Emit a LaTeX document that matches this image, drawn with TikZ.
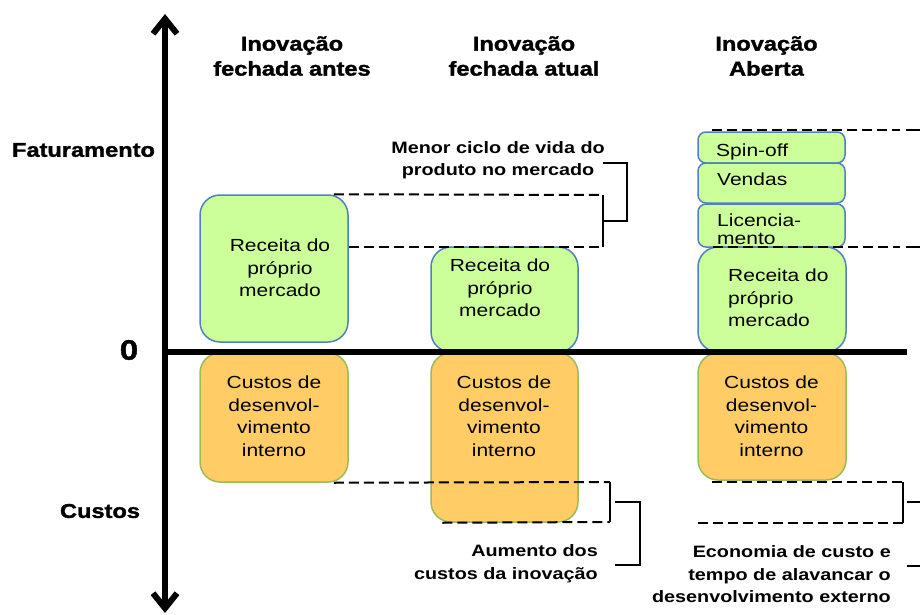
\documentclass[tikz,border=0pt]{standalone}
\usepackage{fontspec}
\setmainfont{Liberation Sans}[FakeStretch=1.2]
\newfontfamily\heavyfont{Liberation Sans Bold}[FakeStretch=1.18,FakeBold=1.5]
\usetikzlibrary{arrows.meta,calc}
\definecolor{gfill}{HTML}{CCFF99}
\definecolor{gdraw}{HTML}{4F81BD}
\definecolor{ofill}{HTML}{FFCC66}
\definecolor{odraw}{HTML}{9BBB59}
\begin{document}
\begin{tikzpicture}[x=1pt,y=-1pt,
  gbox/.style={draw=gdraw, fill=gfill, line width=1.5pt, rounded corners=20pt, inner sep=0pt},
  obox/.style={draw=odraw, fill=ofill, line width=1.5pt, rounded corners=20pt, inner sep=0pt},
  sbox/.style={gbox, rounded corners=8pt},
  boxtxt/.style={font=\fontsize{17.5}{22.5}\selectfont, align=center, inner sep=0pt},
  title/.style={font=\heavyfont\fontsize{20}{25}\selectfont, align=center, inner sep=0pt},
  note/.style={font=\bfseries\fontsize{16.5}{22.5}\selectfont, inner sep=0pt},
  dline/.style={line width=2pt, dash pattern=on 10pt off 5pt},
  bline/.style={line width=2pt},
  axis/.style={line width=6pt},
]
\useasboundingbox (0,0) rectangle (920,615);
\clip (0,0) rectangle (920,615);

% boxes
\node[gbox, minimum width=148pt, minimum height=147pt] (g1) at (274,268.5) {};
\node[obox, minimum width=148pt, minimum height=129pt] (o1) at (274,417.5) {};
\node[gbox, minimum width=147pt, minimum height=105pt] (g2) at (504.5,299.5) {};
\node[obox, minimum width=147pt, minimum height=169pt] (o2) at (504.5,437.5) {};
\node[sbox, minimum width=147pt, minimum height=31pt] (s3) at (771.5,147.5) {};
\node[sbox, minimum width=147pt, minimum height=40pt] (v3) at (771.5,183) {};
\node[sbox, minimum width=147pt, minimum height=43pt] (l3) at (771.5,225.5) {};
\node[gbox, minimum width=148pt, minimum height=105pt] (g3) at (772,299.5) {};
\node[obox, minimum width=148pt, minimum height=127pt] (o3) at (772,416.5) {};

% box texts
\node[boxtxt] (tg1) at (280,268) {Receita do\\próprio\\mercado};
\node[boxtxt] (to1) at (274,416) {Custos de\\desenvol-\\vimento\\interno};
\node[boxtxt] (tg2) at (500,288) {Receita do\\próprio\\mercado};
\node[boxtxt] (to2) at (504,416) {Custos de\\desenvol-\\vimento\\interno};
\node[boxtxt, anchor=west] (ts3) at (716,152) {Spin-off};
\node[boxtxt, anchor=west] (tv3) at (717,179) {Vendas};
\node[boxtxt, anchor=west, align=left, font=\fontsize{17.5}{18}\selectfont] (tl3) at (717,229) {Licencia-\\mento};
\node[boxtxt, anchor=west, align=left] (tg3) at (728,298) {Receita do\\próprio\\mercado};
\node[boxtxt] (to3) at (771.5,416) {Custos de\\desenvol-\\vimento\\interno};

% titles and axis labels
\node[title] (h1) at (292,56) {Inovação\\fechada antes};
\node[title] (h2) at (524,56) {Inovação\\fechada atual};
\node[title] (h3) at (766.5,56) {Inovação\\Aberta};
\node[title] (fat) at (83.5,150) {Faturamento};
\node[title, font=\heavyfont\fontsize{28}{30}\selectfont] (zero) at (129,350) {0};
\node[title] (cus) at (100,511) {Custos};

% annotations
\node[note, align=center] (n1) at (498,160) {Menor ciclo de vida do\\produto no mercado};
\node[note, align=right, anchor=east] (n2) at (598,563.5) {Aumento dos\\custos da inovação};
\node[note, align=right, anchor=east] (n3) at (891,574.5) {Economia de custo e\\tempo de alavancar o\\desenvolvimento externo};

% axes
\coordinate (ytop) at (165,14);
\coordinate (ybot) at (165,613);
\coordinate (xorig) at (165,352);
\coordinate (xend) at (907,352);
\draw[axis, {Straight Barb[length=15pt,width=24pt]}-{Straight Barb[length=15pt,width=24pt]}] (ybot) -- (ytop);
\draw[axis] (xorig) -- (xend);

% column 2, top bracket
\coordinate (a1) at ($(g1.north east)+(-15,0)$);
\coordinate (a2) at (603,195);
\coordinate (a3) at (603,247);
\coordinate (m1) at ($(a2)!0.5!(a3)$);
\coordinate (b1) at (603,163);
\draw[dline] (a1) -- (a2);
\draw[dline] (a3 -| g1.east) -- (a3);
\draw[bline] (a2) -- (a3);
\draw[bline] (m1) -- ++(24,0) |- (b1);

% column 2, bottom bracket
\coordinate (c1) at ($(o1.south east)+(-15,0)$);
\coordinate (c2) at (610,482);
\coordinate (c3) at (610,522);
\coordinate (m2) at (615,502);
\coordinate (b2) at (615,565);
\draw[dline] (c1) -- (c2);
\draw[dline] ($(o2.south west)+(12,0)$) -- (c3);
\draw[bline] (c2) -- (c3);
\draw[bline] (m2) -- ++(25,0) |- (b2);

% column 3, top bracket
\coordinate (d1) at (712,130);
\coordinate (d2) at (900,130);
\coordinate (d3) at (713,247);
\coordinate (d4) at (900,247);
\draw[dline] (d1) -- (d2);
\draw[dline] (d3) -- (d4);
\draw[bline] (906,130) -- (930,130) -- (930,247) -- (906,247);

% column 3, bottom bracket
\coordinate (e1) at (712,482);
\coordinate (e2) at (903,482);
\coordinate (e3) at (903,523);
\coordinate (e4) at ($(o3.west |- e3)+(1,0)$);
\draw[dline] (e1) -- (e2);
\draw[dline] (e4) -- (e3);
\draw[bline] (e2) -- (e3);
\draw[bline] (907,502) -- (930,502) -- (930,566) -- (907,566);
\end{tikzpicture}
\end{document}
